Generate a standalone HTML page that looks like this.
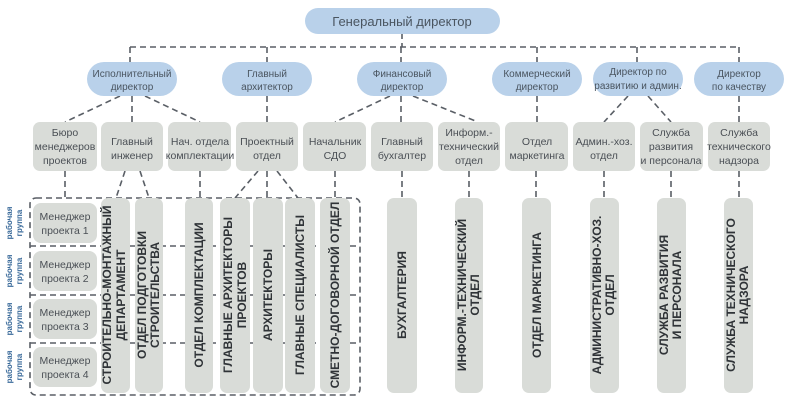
<!DOCTYPE html>
<html><head><meta charset="utf-8"><style>
body{margin:0;background:#fff}
svg{display:block}
text{font-family:"Liberation Sans",sans-serif}
</style></head><body>
<svg width="787" height="404" viewBox="0 0 787 404" xmlns="http://www.w3.org/2000/svg">
<g stroke="#5a5f66" stroke-width="1.6" stroke-dasharray="6,4" fill="none">
<line x1="402" y1="33" x2="402" y2="47"/>
<line x1="130" y1="47" x2="740" y2="47"/>
<line x1="130" y1="47" x2="130" y2="62"/><line x1="267" y1="47" x2="267" y2="62"/>
<line x1="401" y1="47" x2="401" y2="62"/><line x1="537" y1="47" x2="537" y2="62"/>
<line x1="637" y1="47" x2="637" y2="62"/><line x1="739" y1="47" x2="739" y2="62"/>
<line x1="120" y1="96" x2="65" y2="122"/><line x1="132" y1="96" x2="132" y2="122"/><line x1="145" y1="96" x2="200" y2="122"/>
<line x1="267" y1="96" x2="267" y2="122"/>
<line x1="390" y1="96" x2="335" y2="122"/><line x1="401" y1="96" x2="401" y2="122"/><line x1="413" y1="96" x2="478" y2="122"/>
<line x1="537" y1="96" x2="537" y2="122"/>
<line x1="628" y1="96" x2="604" y2="122"/><line x1="648" y1="96" x2="671" y2="122"/>
<line x1="739" y1="96" x2="739" y2="122"/>
<line x1="65" y1="171" x2="65" y2="198"/>
<line x1="125" y1="171" x2="116" y2="198"/><line x1="140" y1="171" x2="149" y2="198"/>
<line x1="200" y1="171" x2="200" y2="198"/>
<line x1="258" y1="171" x2="235" y2="198"/><line x1="267" y1="171" x2="267" y2="198"/><line x1="277" y1="171" x2="298" y2="198"/>
<line x1="335" y1="171" x2="335" y2="198"/>
<line x1="402" y1="171" x2="402" y2="198"/><line x1="469" y1="171" x2="469" y2="198"/>
<line x1="536" y1="171" x2="536" y2="198"/><line x1="604" y1="171" x2="604" y2="198"/>
<line x1="671" y1="171" x2="671" y2="198"/><line x1="739" y1="171" x2="739" y2="198"/>
<rect x="30" y="198" width="330" height="197" rx="6"/>
<line x1="30" y1="246" x2="360" y2="246"/><line x1="30" y1="295" x2="360" y2="295"/><line x1="30" y1="343" x2="360" y2="343"/>
</g>
<g fill="#b9d1ea">
<rect x="305" y="8" width="195" height="26" rx="13"/>
<rect x="87" y="62" width="90" height="34" rx="17"/>
<rect x="222" y="62" width="90" height="34" rx="17"/>
<rect x="357" y="62" width="90" height="34" rx="17"/>
<rect x="492" y="62" width="90" height="34" rx="17"/>
<rect x="593" y="62" width="90" height="34" rx="17"/>
<rect x="694" y="62" width="90" height="34" rx="17"/>
</g>
<g fill="#d9dcd8">
<rect x="33" y="122" width="64" height="49" rx="7"/><rect x="101" y="122" width="62" height="49" rx="7"/>
<rect x="168" y="122" width="63" height="49" rx="7"/><rect x="236" y="122" width="62" height="49" rx="7"/>
<rect x="303" y="122" width="63" height="49" rx="7"/><rect x="371" y="122" width="62" height="49" rx="7"/>
<rect x="438" y="122" width="62" height="49" rx="7"/><rect x="505" y="122" width="63" height="49" rx="7"/>
<rect x="573" y="122" width="62" height="49" rx="7"/><rect x="640" y="122" width="63" height="49" rx="7"/>
<rect x="708" y="122" width="62" height="49" rx="7"/>
<rect x="33" y="203" width="64" height="40" rx="8"/><rect x="33" y="251" width="64" height="40" rx="8"/>
<rect x="33" y="299" width="64" height="40" rx="8"/><rect x="33" y="347" width="64" height="40" rx="8"/>
<rect x="101" y="198" width="29" height="195" rx="7"/><rect x="135" y="198" width="28" height="195" rx="7"/>
<rect x="185" y="198" width="28" height="195" rx="7"/><rect x="220" y="198" width="30" height="195" rx="7"/>
<rect x="253" y="198" width="30" height="195" rx="7"/><rect x="285" y="198" width="30" height="195" rx="7"/>
<rect x="320" y="198" width="30" height="195" rx="7"/>
<rect x="387" y="198" width="30" height="195" rx="7"/><rect x="455" y="198" width="28" height="195" rx="7"/>
<rect x="522" y="198" width="29" height="195" rx="7"/><rect x="590" y="198" width="29" height="195" rx="7"/>
<rect x="657" y="198" width="29" height="195" rx="7"/><rect x="724" y="198" width="29" height="195" rx="7"/>
</g>
<g fill="#4a5560" font-size="13" text-anchor="middle"><text x="402" y="26">Генеральный директор</text></g>
<g fill="#4a5560" font-size="10" text-anchor="middle">
<text x="132" y="77">Исполнительный</text><text x="132" y="90">директор</text>
<text x="267" y="77">Главный</text><text x="267" y="90">архитектор</text>
<text x="402" y="77">Финансовый</text><text x="402" y="90">директор</text>
<text x="537" y="77">Коммерческий</text><text x="537" y="90">директор</text>
<text x="638" y="75">Директор по</text><text x="638" y="89">развитию и админ.</text>
<text x="739" y="77">Директор</text><text x="739" y="90">по качеству</text>
</g>
<g fill="#4a4f55" font-size="10.5" text-anchor="middle">
<text x="65" y="136">Бюро</text><text x="65" y="150">менеджеров</text><text x="65" y="164">проектов</text>
<text x="132" y="145">Главный</text><text x="132" y="159">инженер</text>
<text x="200" y="145">Нач. отдела</text><text x="200" y="159">комплектации</text>
<text x="267" y="145">Проектный</text><text x="267" y="159">отдел</text>
<text x="335" y="145">Начальник</text><text x="335" y="159">СДО</text>
<text x="402" y="145">Главный</text><text x="402" y="159">бухгалтер</text>
<text x="469" y="136">Информ.-</text><text x="469" y="150">технический</text><text x="469" y="164">отдел</text>
<text x="537" y="145">Отдел</text><text x="537" y="159">маркетинга</text>
<text x="604" y="145">Админ.-хоз.</text><text x="604" y="159">отдел</text>
<text x="671" y="136">Служба</text><text x="671" y="150">развития</text><text x="671" y="164">и персонала</text>
<text x="739" y="136">Служба</text><text x="739" y="150">технического</text><text x="739" y="164">надзора</text>
<text x="65" y="220">Менеджер</text><text x="65" y="234">проекта 1</text>
<text x="65" y="268">Менеджер</text><text x="65" y="282">проекта 2</text>
<text x="65" y="316">Менеджер</text><text x="65" y="330">проекта 3</text>
<text x="65" y="364">Менеджер</text><text x="65" y="378">проекта 4</text>
</g>
<g fill="#3a6a9a" font-size="8" font-weight="bold" text-anchor="middle">
<text transform="translate(12,223) rotate(-90)">рабочая</text><text transform="translate(22,223) rotate(-90)">группа</text>
<text transform="translate(12,271) rotate(-90)">рабочая</text><text transform="translate(22,271) rotate(-90)">группа</text>
<text transform="translate(12,319) rotate(-90)">рабочая</text><text transform="translate(22,319) rotate(-90)">группа</text>
<text transform="translate(12,367) rotate(-90)">рабочая</text><text transform="translate(22,367) rotate(-90)">группа</text>
</g>
<g fill="#2f3337" font-size="12" font-weight="bold" text-anchor="middle">
<text transform="translate(111,295) rotate(-90)">СТРОИТЕЛЬНО-МОНТАЖНЫЙ</text><text transform="translate(125,295) rotate(-90)">ДЕПАРТАМЕНТ</text>
<text transform="translate(146,295) rotate(-90)">ОТДЕЛ ПОДГОТОВКИ</text><text transform="translate(159,295) rotate(-90)">СТРОИТЕЛЬСТВА</text>
<text transform="translate(203,295) rotate(-90)">ОТДЕЛ КОМПЛЕКТАЦИИ</text>
<text transform="translate(232,295) rotate(-90)">ГЛАВНЫЕ АРХИТЕКТОРЫ</text><text transform="translate(246,295) rotate(-90)">ПРОЕКТОВ</text>
<text transform="translate(272,295) rotate(-90)">АРХИТЕКТОРЫ</text>
<text transform="translate(304,295) rotate(-90)">ГЛАВНЫЕ СПЕЦИАЛИСТЫ</text>
<text transform="translate(339,295) rotate(-90)">СМЕТНО-ДОГОВОРНОЙ ОТДЕЛ</text>
<text transform="translate(406,295) rotate(-90)">БУХГАЛТЕРИЯ</text>
<text transform="translate(466,295) rotate(-90)">ИНФОРМ.-ТЕХНИЧЕСКИЙ</text><text transform="translate(479,295) rotate(-90)">ОТДЕЛ</text>
<text transform="translate(541,295) rotate(-90)">ОТДЕЛ МАРКЕТИНГА</text>
<text transform="translate(601,295) rotate(-90)">АДМИНИСТРАТИВНО-ХОЗ.</text><text transform="translate(614,295) rotate(-90)">ОТДЕЛ</text>
<text transform="translate(668,295) rotate(-90)">СЛУЖБА РАЗВИТИЯ</text><text transform="translate(681,295) rotate(-90)">И ПЕРСОНАЛА</text>
<text transform="translate(735,295) rotate(-90)">СЛУЖБА ТЕХНИЧЕСКОГО</text><text transform="translate(748,295) rotate(-90)">НАДЗОРА</text>
</g>
</svg>
</body></html>
